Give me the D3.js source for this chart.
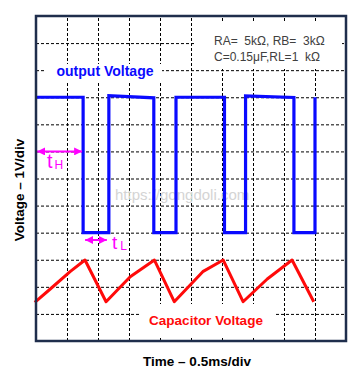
<!DOCTYPE html>
<html>
<head>
<meta charset="utf-8">
<script src="https://cdn.jsdelivr.net/npm/d3@7/dist/d3.min.js"></script>
<style>
  body { margin: 0; background: #fff; }
  #chart svg { display: block; font-family: "Liberation Sans", Arial, sans-serif; }
</style>
</head>
<body>
<div id="chart"></div>
<script>
// time in ms (0.5 ms/div), voltage in V (1 V/div)
const outTime = [0, 0.76, 0.76, 1.175, 1.175, 1.90, 1.90, 2.258, 2.258, 3.04, 3.04, 3.38, 3.38, 4.16, 4.16, 4.5, 4.5];
const outVolt = [9, 9, 4, 4, 9.06, 8.98, 4, 4, 9, 9, 4, 4, 9.05, 8.99, 4, 4, 9];

const capTime = [-0.02, 0.23, 0.55, 0.79, 1.13, 1.52, 1.91, 2.23, 2.69, 3.02, 3.34, 3.73, 4.13, 4.48];
const capVolt = [1.43, 1.92, 2.56, 2.99, 1.45, 2.37, 2.99, 1.45, 2.56, 2.99, 1.45, 2.29, 2.99, 1.45];

const timeGrid = [0.5, 1, 1.5, 2, 2.5, 3, 3.5, 4, 4.5];
const voltGrid = [1, 2, 3, 4, 5, 6, 7, 8, 9, 10, 11];

const paramLines = ["RA=  5k\u03A9, RB=  3k\u03A9", "C=0.15\u03BCF,RL=1  k\u03A9"];

(function() {
  let svg, x, y;

  const W = 352, H = 379;
  const left = 36, right = 346, top = 16, bottom = 341;

  svg = d3.select("#chart").append("svg")
    .attr("width", W)
    .attr("height", H);

  x = d3.scaleLinear().domain([0, 5]).range([left, right]);
  y = d3.scaleLinear().domain([0, 12]).range([bottom, top]);

  // dashed graticule
  const gx = svg.append("g")
    .attr("transform", "translate(0," + bottom + ")")
    .call(d3.axisBottom(x).tickValues(timeGrid).tickSize(-(bottom - top)).tickFormat(""));
  const gy = svg.append("g")
    .attr("transform", "translate(" + left + ",0)")
    .call(d3.axisLeft(y).tickValues(voltGrid).tickSize(-(right - left)).tickFormat(""));

  [gx, gy].forEach(function(g) {
    g.select(".domain").remove();
    g.selectAll(".tick line")
      .attr("stroke", "#000")
      .attr("stroke-width", 1)
      .attr("stroke-dasharray", "3,2");
  });

  // white label boxes hiding the grid
  svg.append("rect").attr("x", 46).attr("y", 64).attr("width", 116).attr("height", 19).attr("fill", "#fff");
  svg.append("rect").attr("x", 195).attr("y", 21).attr("width", 147).attr("height", 48).attr("fill", "#fff");
  svg.append("rect").attr("x", 140).attr("y", 304).attr("width", 135).attr("height", 33).attr("fill", "#fff");

  // watermark
  svg.append("text")
    .attr("x", 115).attr("y", 200)
    .attr("fill", "#d4d4d4")
    .style("font-size", "15px")
    .text("https://gongdoli.com");

  const line = d3.line()
    .x(function(d) { return x(d[0]); })
    .y(function(d) { return y(d[1]); });

  svg.append("path")
    .datum(d3.zip(outTime, outVolt))
    .attr("fill", "none")
    .attr("stroke", "#0a0aff")
    .attr("stroke-width", 3.2)
    .attr("d", line);

  svg.append("path")
    .datum(d3.zip(capTime, capVolt))
    .attr("fill", "none")
    .attr("stroke", "#ff0a0a")
    .attr("stroke-width", 3)
    .attr("stroke-linejoin", "round")
    .attr("d", line);

  // tH / tL arrows
  svg.append("defs").append("marker")
    .attr("id", "arr")
    .attr("viewBox", "0 -4 8 8")
    .attr("refX", 8)
    .attr("markerUnits", "userSpaceOnUse")
    .attr("markerWidth", 8)
    .attr("markerHeight", 8)
    .attr("orient", "auto-start-reverse")
    .append("path")
    .attr("d", "M0,-4L8,0L0,4Z")
    .attr("fill", "#ff00ff");

  svg.append("line")
    .attr("x1", x(0) + 1).attr("x2", x(outTime[1]) - 1)
    .attr("y1", y(7)).attr("y2", y(7))
    .attr("stroke", "#ff00ff").attr("stroke-width", 2)
    .attr("marker-start", "url(#arr)").attr("marker-end", "url(#arr)");

  svg.append("line")
    .attr("x1", x(outTime[2]) + 2).attr("x2", x(outTime[3]) - 2)
    .attr("y1", y(3.73)).attr("y2", y(3.73))
    .attr("stroke", "#ff00ff").attr("stroke-width", 2)
    .attr("marker-start", "url(#arr)").attr("marker-end", "url(#arr)");

  const tH = svg.append("text").attr("x", 47).attr("y", 168).attr("fill", "#ff00ff");
  tH.append("tspan").style("font-size", "20px").text("t");
  tH.append("tspan").attr("dx", 2).attr("dy", 1).style("font-size", "12px").text("H");

  const tL = svg.append("text").attr("x", 112).attr("y", 249).attr("fill", "#ff00ff");
  tL.append("tspan").style("font-size", "19px").text("t");
  tL.append("tspan").attr("dx", 3).attr("dy", 1).style("font-size", "12px").text("L");

  // labels
  svg.append("text")
    .attr("x", 105).attr("y", 76)
    .attr("text-anchor", "middle")
    .attr("fill", "#0a0aff")
    .style("font-size", "14px").style("font-weight", "bold")
    .text("output Voltage");

  svg.append("text")
    .attr("x", 206).attr("y", 325)
    .attr("text-anchor", "middle")
    .attr("fill", "#ff0a0a")
    .style("font-size", "13.5px").style("font-weight", "bold")
    .text("Capacitor Voltage");

  svg.append("g").selectAll("text")
    .data(paramLines)
    .enter().append("text")
    .attr("x", 214)
    .attr("y", function(d, i) { return 45 + i * 16; })
    .attr("fill", "#404040")
    .style("font-size", "12px")
    .style("white-space", "pre")
    .text(function(d) { return d; });

  // frame
  svg.append("rect")
    .attr("x", left).attr("y", top)
    .attr("width", right - left).attr("height", bottom - top)
    .attr("fill", "none")
    .attr("stroke", "#1f2e4c")
    .attr("stroke-width", 2.5);

  // axis titles
  svg.append("text")
    .attr("x", 197).attr("y", 366)
    .attr("text-anchor", "middle")
    .style("font-size", "13.5px").style("font-weight", "bold")
    .text("Time \u2013 0.5ms/div");

  svg.append("text")
    .attr("transform", "translate(24,190) rotate(-90)")
    .attr("text-anchor", "middle")
    .style("font-size", "13.5px").style("font-weight", "bold")
    .text("Voltage \u2013 1V/div");
})();
</script>
</body>
</html>
